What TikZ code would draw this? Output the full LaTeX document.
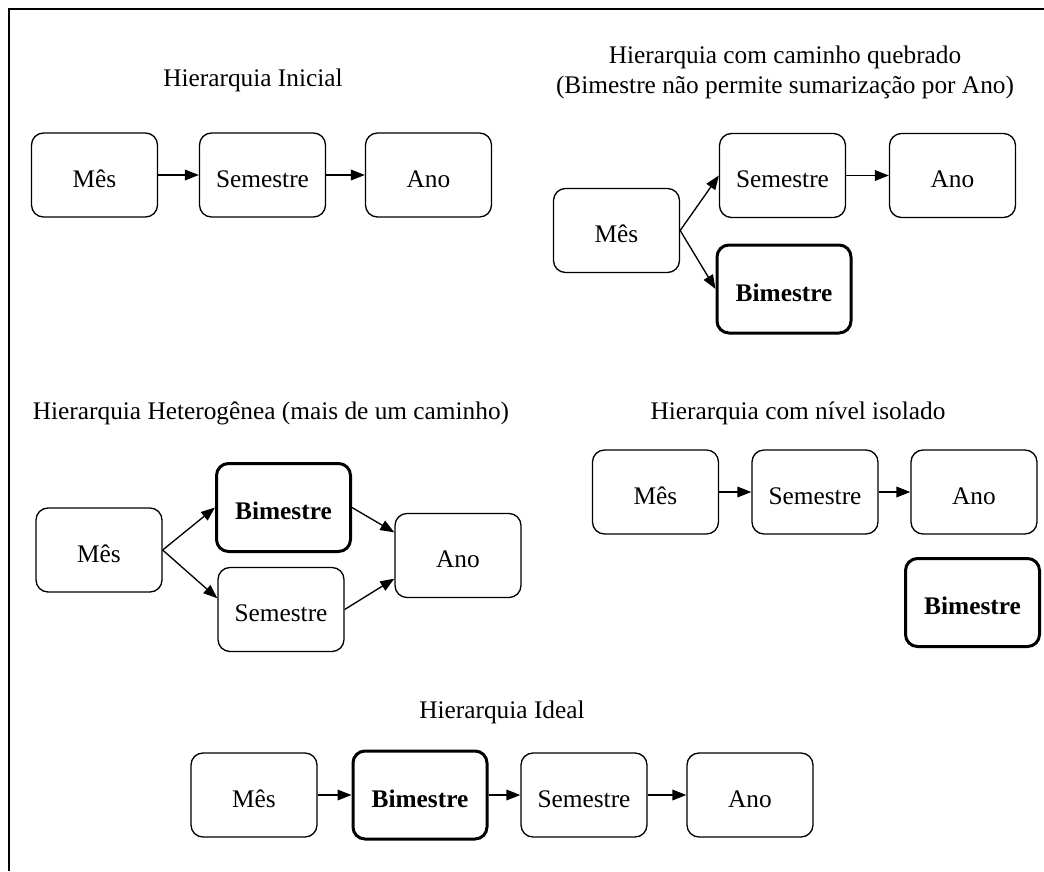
\documentclass[tikz,border=0pt]{standalone}
\usepackage{fontspec}
\setmainfont{Liberation Serif}
\usetikzlibrary{arrows.meta}
\begin{document}
\begin{tikzpicture}[x=0.75pt,y=-0.75pt,
  every node/.style={font=\fontsize{19}{23}\selectfont},
  level/.style={draw, rounded corners=9pt, line width=1pt,
    minimum width=94.5pt, minimum height=63pt,
    text height=19pt, text depth=1pt, inner sep=0pt},
  isolated/.style={level, line width=2.25pt,
    minimum width=100.5pt, minimum height=66pt,
    font=\fontsize{19}{23}\selectfont\bfseries},
  title/.style={anchor=base, inner sep=0pt},
  link/.style={line width=1pt, -{Triangle[length=10.5pt,width=8pt]}}
]
\useasboundingbox (0,0) rectangle (1044,871);
\draw[line width=1pt] (1044,9) -- (9,9) -- (9,871);

% Hierarquia Inicial
\node[title] (tA) at (253,86) {Hierarquia Inicial};
\node[level] (mesA) at (94.5,175) {Mês};
\node[level] (semA) at (262.5,175) {Semestre};
\node[level] (anoA) at (428.5,175) {Ano};
\draw[link] (mesA) -- (semA);
\draw[link] (semA) -- (anoA);

% Hierarquia com caminho quebrado
\node[title] (tB1) at (785,63) {Hierarquia com caminho quebrado};
\node[title] (tB2) at (785,93) {(Bimestre não permite sumarização por Ano)};
\node[level] (mesB) at (616.5,230.5) {Mês};
\node[level] (semB) at (782.5,175.5) {Semestre};
\node[level] (anoB) at (952.5,175.5) {Ano};
\node[isolated] (bimB) at (784,289) {Bimestre};
\draw[link] (mesB.east) -- (semB.west);
\draw[link] (mesB.east) -- (bimB.west);
\draw[link] (semB) -- (anoB);

% Hierarquia Heterogênea
\node[title] (tC) at (271,419) {Hierarquia Heterogênea (mais de um caminho)};
\node[level] (mesC) at (99,550) {Mês};
\node[isolated] (bimC) at (283.5,507.5) {Bimestre};
\node[level] (semC) at (281,609.5) {Semestre};
\node[level] (anoC) at (458,555.5) {Ano};
\draw[link] (mesC.east) -- (bimC.west);
\draw[link] (mesC.east) -- (semC.170);
\draw[link] (bimC.east) -- (anoC.160);
\draw[link] (semC.east) -- (anoC.200);

% Hierarquia com nível isolado
\node[title] (tD) at (798,419) {Hierarquia com nível isolado};
\node[level] (mesD) at (655.5,492) {Mês};
\node[level] (semD) at (815,492) {Semestre};
\node[level] (anoD) at (974,492) {Ano};
\node[isolated] (bimD) at (972.5,602.5) {Bimestre};
\draw[link] (mesD) -- (semD);
\draw[link] (semD) -- (anoD);

% Hierarquia Ideal
\node[title] (tE) at (502,718) {Hierarquia Ideal};
\node[level] (mesE) at (254,795) {Mês};
\node[isolated] (bimE) at (420,795) {Bimestre};
\node[level] (semE) at (584,795) {Semestre};
\node[level] (anoE) at (750,795) {Ano};
\draw[link] (mesE) -- (bimE);
\draw[link] (bimE) -- (semE);
\draw[link] (semE) -- (anoE);
\end{tikzpicture}
\end{document}
